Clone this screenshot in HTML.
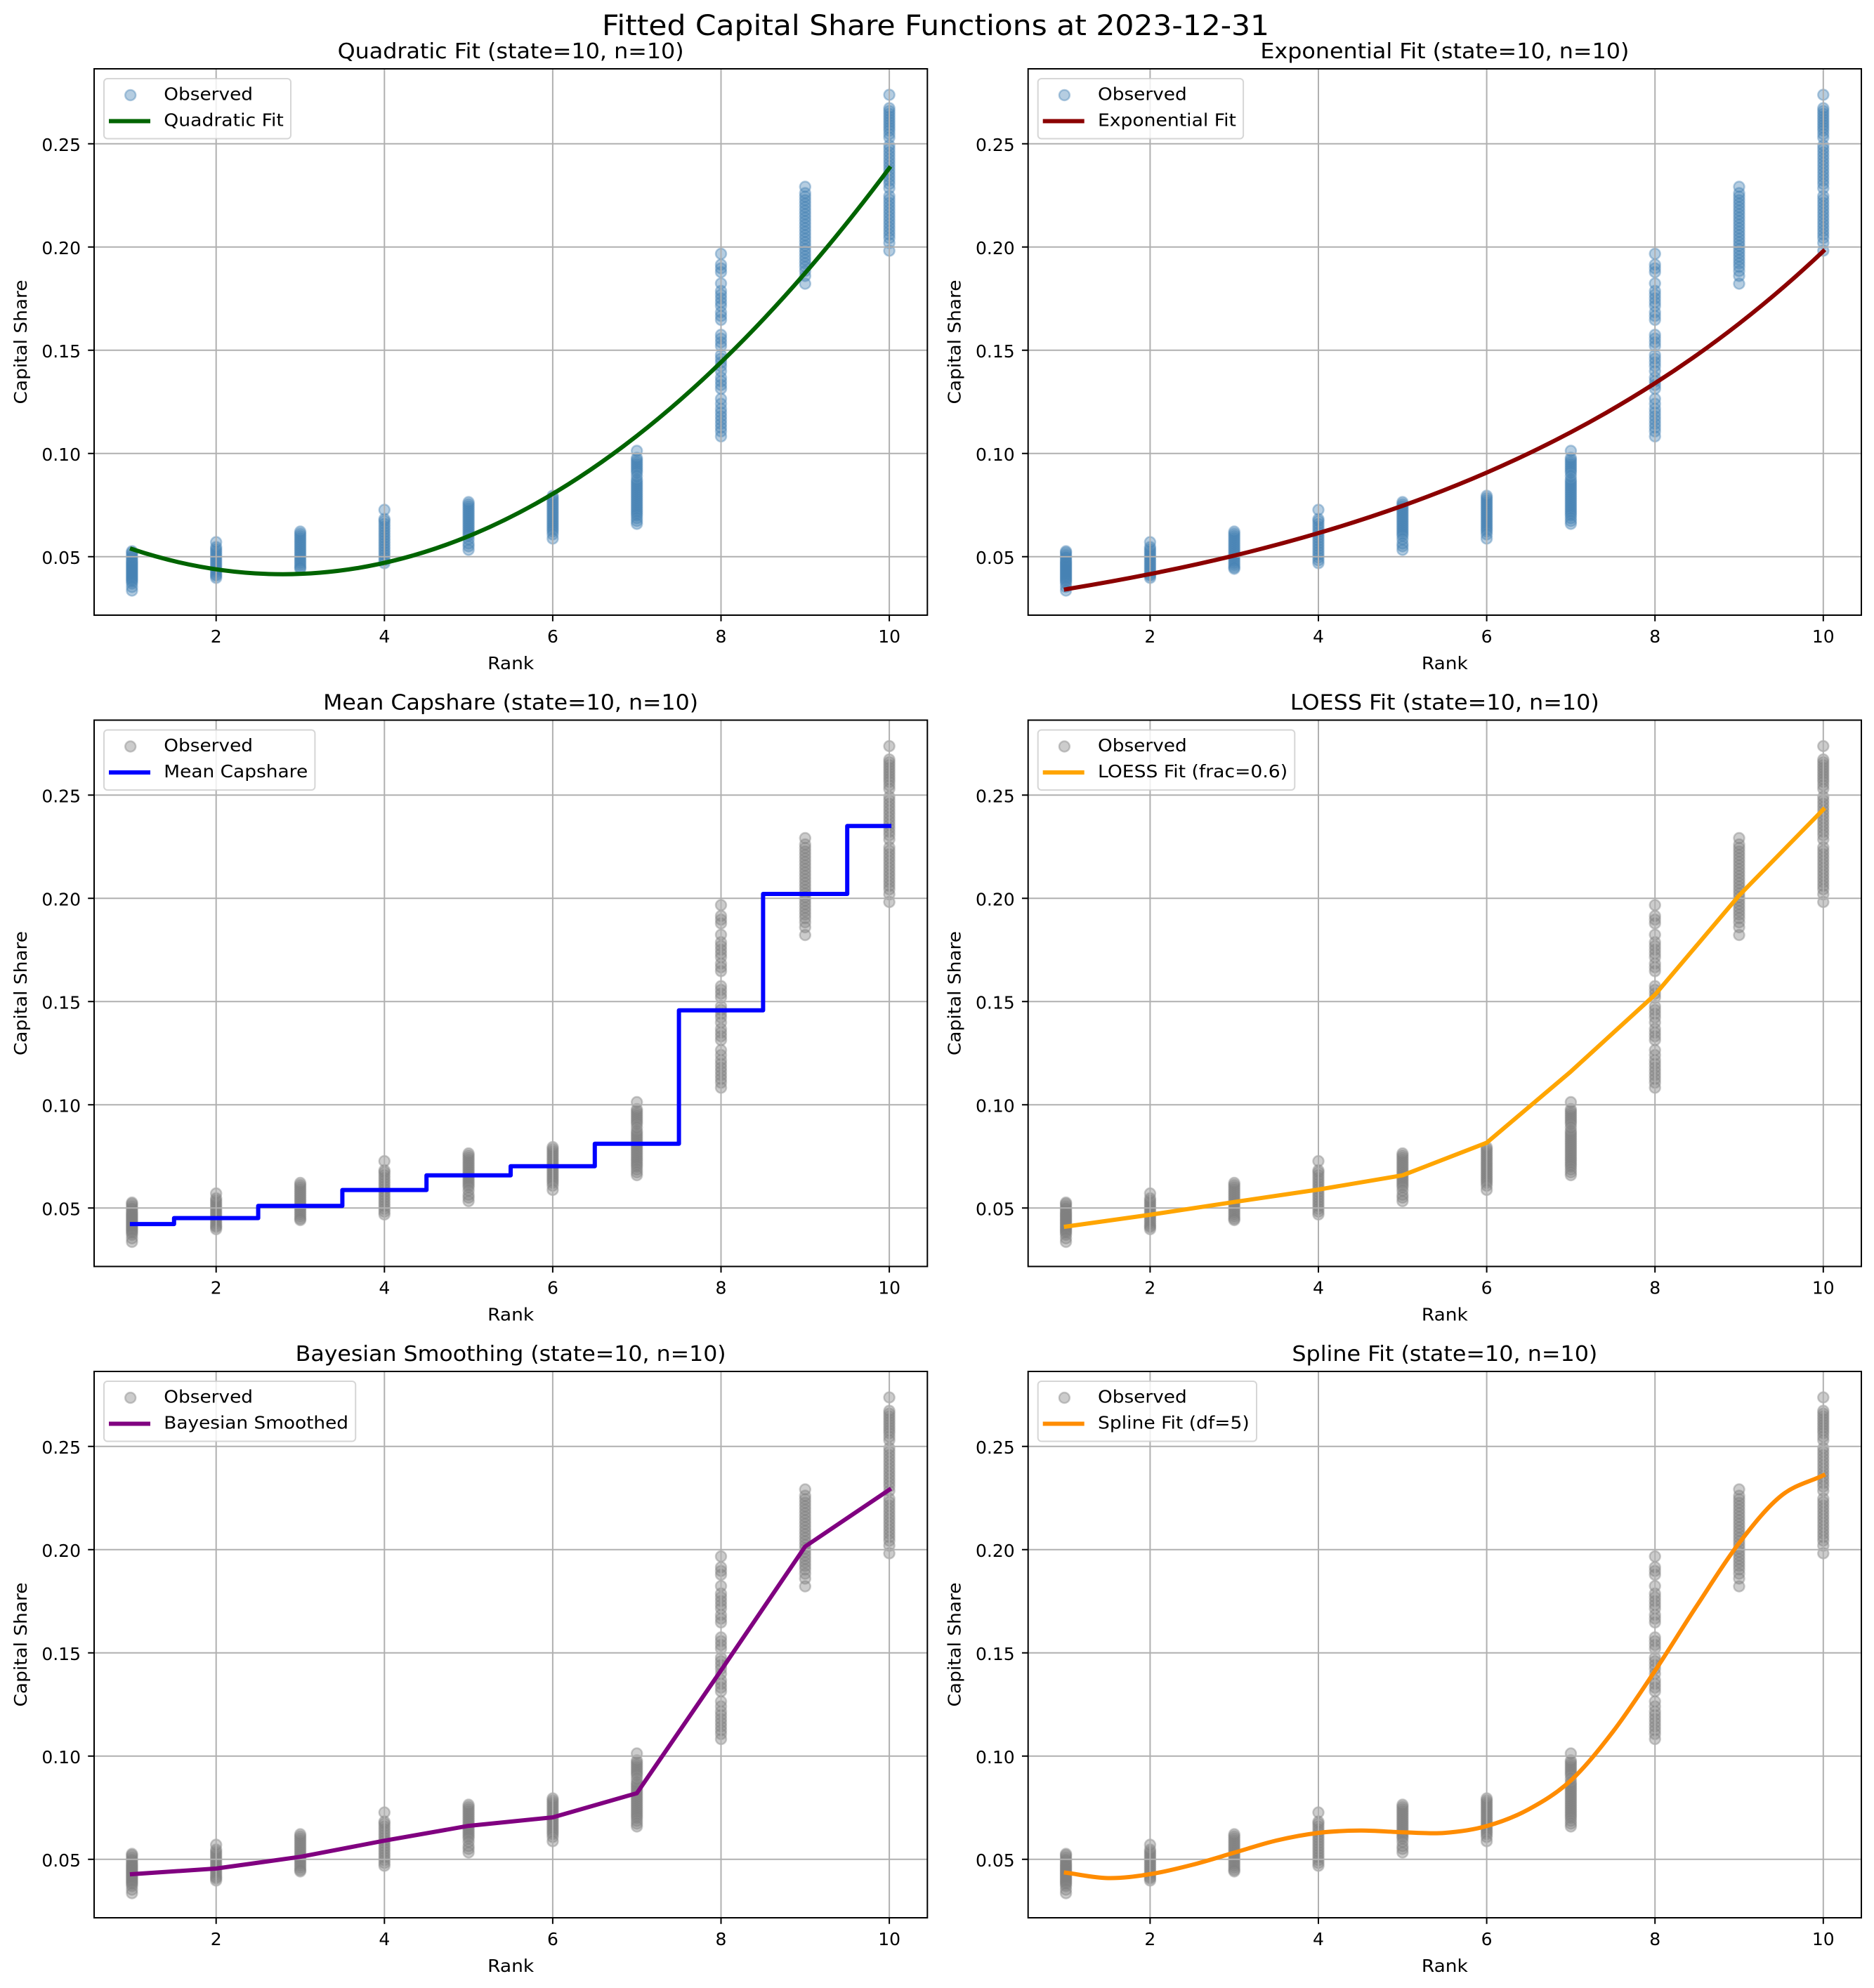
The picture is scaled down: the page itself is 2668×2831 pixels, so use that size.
<!DOCTYPE html>
<html><head><meta charset="utf-8"><style>
body{margin:0;background:#fff}
svg{display:block}
text{font-family:"DejaVu Sans","Liberation Sans",sans-serif;fill:#000}
</style></head><body>
<svg width="2668" height="2831" viewBox="0 0 2668 2831" xmlns="http://www.w3.org/2000/svg" xmlns:xlink="http://www.w3.org/1999/xlink">
<defs>
<g id="pts">
<g transform="translate(53.9,0)"><circle cy="687" r="7.5"/><circle cy="689" r="7.5"/><circle cy="692" r="7.5"/><circle cy="695" r="7.5"/><circle cy="697" r="7.5"/><circle cy="700" r="7.5"/><circle cy="702" r="7.5"/><circle cy="704" r="7.5"/><circle cy="706" r="7.5"/><circle cy="708" r="7.5"/><circle cy="710" r="7.5"/><circle cy="712" r="7.5"/><circle cy="714" r="7.5"/><circle cy="716" r="7.5"/><circle cy="718" r="7.5"/><circle cy="720" r="7.5"/><circle cy="722" r="7.5"/><circle cy="724" r="7.5"/><circle cy="726" r="7.5"/><circle cy="728" r="7.5"/><circle cy="730" r="7.5"/><circle cy="733" r="7.5"/><circle cy="738" r="7.5"/><circle cy="743" r="7.5"/></g>
<g transform="translate(173.7,0)"><circle cy="674" r="7.5"/><circle cy="681" r="7.5"/><circle cy="684" r="7.5"/><circle cy="687" r="7.5"/><circle cy="690" r="7.5"/><circle cy="693" r="7.5"/><circle cy="696" r="7.5"/><circle cy="699" r="7.5"/><circle cy="702" r="7.5"/><circle cy="705" r="7.5"/><circle cy="708" r="7.5"/><circle cy="711" r="7.5"/><circle cy="714" r="7.5"/><circle cy="717" r="7.5"/><circle cy="720" r="7.5"/><circle cy="722" r="7.5"/><circle cy="725" r="7.5"/></g>
<g transform="translate(293.5,0)"><circle cy="659" r="7.5"/><circle cy="662" r="7.5"/><circle cy="665" r="7.5"/><circle cy="668" r="7.5"/><circle cy="671" r="7.5"/><circle cy="674" r="7.5"/><circle cy="677" r="7.5"/><circle cy="680" r="7.5"/><circle cy="683" r="7.5"/><circle cy="686" r="7.5"/><circle cy="689" r="7.5"/><circle cy="692" r="7.5"/><circle cy="695" r="7.5"/><circle cy="698" r="7.5"/><circle cy="701" r="7.5"/><circle cy="704" r="7.5"/><circle cy="707" r="7.5"/><circle cy="710" r="7.5"/><circle cy="712" r="7.5"/></g>
<g transform="translate(413.3,0)"><circle cy="628" r="7.5"/><circle cy="641" r="7.5"/><circle cy="644" r="7.5"/><circle cy="648" r="7.5"/><circle cy="652" r="7.5"/><circle cy="656" r="7.5"/><circle cy="660" r="7.5"/><circle cy="664" r="7.5"/><circle cy="668" r="7.5"/><circle cy="672" r="7.5"/><circle cy="676" r="7.5"/><circle cy="680" r="7.5"/><circle cy="684" r="7.5"/><circle cy="688" r="7.5"/><circle cy="692" r="7.5"/><circle cy="696" r="7.5"/><circle cy="700" r="7.5"/><circle cy="704" r="7.5"/></g>
<g transform="translate(533.1,0)"><circle cy="617" r="7.5"/><circle cy="620" r="7.5"/><circle cy="623" r="7.5"/><circle cy="626" r="7.5"/><circle cy="629" r="7.5"/><circle cy="632" r="7.5"/><circle cy="635" r="7.5"/><circle cy="638" r="7.5"/><circle cy="641" r="7.5"/><circle cy="644" r="7.5"/><circle cy="647" r="7.5"/><circle cy="650" r="7.5"/><circle cy="653" r="7.5"/><circle cy="656" r="7.5"/><circle cy="659" r="7.5"/><circle cy="662" r="7.5"/><circle cy="665" r="7.5"/><circle cy="670" r="7.5"/><circle cy="676" r="7.5"/><circle cy="680" r="7.5"/><circle cy="685" r="7.5"/></g>
<g transform="translate(652.9,0)"><circle cy="608" r="7.5"/><circle cy="611" r="7.5"/><circle cy="614" r="7.5"/><circle cy="617" r="7.5"/><circle cy="620" r="7.5"/><circle cy="623" r="7.5"/><circle cy="626" r="7.5"/><circle cy="629" r="7.5"/><circle cy="632" r="7.5"/><circle cy="635" r="7.5"/><circle cy="638" r="7.5"/><circle cy="641" r="7.5"/><circle cy="644" r="7.5"/><circle cy="647" r="7.5"/><circle cy="650" r="7.5"/><circle cy="653" r="7.5"/><circle cy="656" r="7.5"/><circle cy="659" r="7.5"/><circle cy="663" r="7.5"/><circle cy="669" r="7.5"/></g>
<g transform="translate(772.7,0)"><circle cy="544" r="7.5"/><circle cy="554" r="7.5"/><circle cy="557" r="7.5"/><circle cy="560" r="7.5"/><circle cy="563" r="7.5"/><circle cy="566" r="7.5"/><circle cy="569" r="7.5"/><circle cy="572" r="7.5"/><circle cy="575" r="7.5"/><circle cy="580" r="7.5"/><circle cy="585" r="7.5"/><circle cy="588" r="7.5"/><circle cy="591" r="7.5"/><circle cy="594" r="7.5"/><circle cy="597" r="7.5"/><circle cy="600" r="7.5"/><circle cy="603" r="7.5"/><circle cy="606" r="7.5"/><circle cy="609" r="7.5"/><circle cy="612" r="7.5"/><circle cy="615" r="7.5"/><circle cy="618" r="7.5"/><circle cy="621" r="7.5"/><circle cy="624" r="7.5"/><circle cy="627" r="7.5"/><circle cy="630" r="7.5"/><circle cy="633" r="7.5"/><circle cy="636" r="7.5"/><circle cy="640" r="7.5"/><circle cy="644" r="7.5"/><circle cy="648" r="7.5"/></g>
<g transform="translate(892.5,0)"><circle cy="263.4" r="7.5"/><circle cy="278.8" r="7.5"/><circle cy="284.1" r="7.5"/><circle cy="289.5" r="7.5"/><circle cy="305.6" r="7.5"/><circle cy="316.3" r="7.5"/><circle cy="321.6" r="7.5"/><circle cy="327" r="7.5"/><circle cy="332.4" r="7.5"/><circle cy="337.7" r="7.5"/><circle cy="346.6" r="7.5"/><circle cy="352" r="7.5"/><circle cy="357.4" r="7.5"/><circle cy="378.8" r="7.5"/><circle cy="384.1" r="7.5"/><circle cy="389.5" r="7.5"/><circle cy="394.9" r="7.5"/><circle cy="407.4" r="7.5"/><circle cy="412.7" r="7.5"/><circle cy="418.1" r="7.5"/><circle cy="423.5" r="7.5"/><circle cy="430.6" r="7.5"/><circle cy="439.5" r="7.5"/><circle cy="444.9" r="7.5"/><circle cy="450.2" r="7.5"/><circle cy="455.6" r="7.5"/><circle cy="469.9" r="7.5"/><circle cy="477" r="7.5"/><circle cy="484.1" r="7.5"/><circle cy="489.5" r="7.5"/><circle cy="494.9" r="7.5"/><circle cy="500.2" r="7.5"/><circle cy="505.6" r="7.5"/><circle cy="510.9" r="7.5"/><circle cy="516.3" r="7.5"/><circle cy="523.4" r="7.5"/></g>
<g transform="translate(1012.3,0)"><circle cy="168" r="7.5"/><circle cy="177" r="7.5"/><circle cy="182" r="7.5"/><circle cy="187" r="7.5"/><circle cy="192" r="7.5"/><circle cy="197" r="7.5"/><circle cy="202" r="7.5"/><circle cy="207" r="7.5"/><circle cy="212" r="7.5"/><circle cy="217" r="7.5"/><circle cy="222" r="7.5"/><circle cy="227" r="7.5"/><circle cy="232" r="7.5"/><circle cy="237" r="7.5"/><circle cy="242" r="7.5"/><circle cy="247" r="7.5"/><circle cy="252" r="7.5"/><circle cy="257" r="7.5"/><circle cy="262" r="7.5"/><circle cy="267" r="7.5"/><circle cy="272" r="7.5"/><circle cy="277" r="7.5"/><circle cy="282" r="7.5"/><circle cy="288" r="7.5"/><circle cy="295" r="7.5"/><circle cy="306" r="7.5"/></g>
<g transform="translate(1132.1,0)"><circle cy="37" r="7.5"/><circle cy="56" r="7.5"/><circle cy="60" r="7.5"/><circle cy="64" r="7.5"/><circle cy="68" r="7.5"/><circle cy="72" r="7.5"/><circle cy="76" r="7.5"/><circle cy="80" r="7.5"/><circle cy="84" r="7.5"/><circle cy="88" r="7.5"/><circle cy="93" r="7.5"/><circle cy="98" r="7.5"/><circle cy="109" r="7.5"/><circle cy="114" r="7.5"/><circle cy="119" r="7.5"/><circle cy="124" r="7.5"/><circle cy="129" r="7.5"/><circle cy="134" r="7.5"/><circle cy="139" r="7.5"/><circle cy="144" r="7.5"/><circle cy="149" r="7.5"/><circle cy="154" r="7.5"/><circle cy="159" r="7.5"/><circle cy="164" r="7.5"/><circle cy="170" r="7.5"/><circle cy="181" r="7.5"/><circle cy="186" r="7.5"/><circle cy="191" r="7.5"/><circle cy="196" r="7.5"/><circle cy="201" r="7.5"/><circle cy="206" r="7.5"/><circle cy="211" r="7.5"/><circle cy="216" r="7.5"/><circle cy="221" r="7.5"/><circle cy="226" r="7.5"/><circle cy="231" r="7.5"/><circle cy="236" r="7.5"/><circle cy="241" r="7.5"/><circle cy="248" r="7.5"/><circle cy="259" r="7.5"/></g>
</g>
<g id="grid" stroke="#b0b0b0" stroke-width="2" fill="none">
<path d="M173.7,0V778M413.3,0V778M652.9,0V778M892.5,0V778M1132.1,0V778M0,106.7H1186.3M0,253.7H1186.3M0,400.7H1186.3M0,547.7H1186.3M0,694.7H1186.3"/>
</g>
<g id="frame">
<rect x="0" y="0" width="1186.3" height="778" fill="none" stroke="#000" stroke-width="2"/>
<path d="M173.7,778v8.75M413.3,778v8.75M652.9,778v8.75M892.5,778v8.75M1132.1,778v8.75M0,106.7h-8.75M0,253.7h-8.75M0,400.7h-8.75M0,547.7h-8.75M0,694.7h-8.75" stroke="#000" stroke-width="2" fill="none"/>
</g>
</defs>

<text x="1332" y="50" font-size="40" text-anchor="middle" textLength="950" lengthAdjust="spacingAndGlyphs">Fitted Capital Share Functions at 2023-12-31</text>

<!-- Panel 1: Quadratic -->
<g transform="translate(134,98)">
<use href="#pts" xlink:href="#pts" fill="#4682b4" stroke="#4682b4" fill-opacity="0.4" stroke-opacity="0.4" stroke-width="2.5"/>
<use href="#grid" xlink:href="#grid"/>
<path fill="none" stroke="#006400" stroke-width="6" stroke-linejoin="round" stroke-linecap="square" d="M53.9,683.9 Q593,863.7 1132.1,141.4"/>
<use href="#frame" xlink:href="#frame"/>
<g font-size="25" text-anchor="middle"><text x="173.7" y="817">2</text><text x="413.3" y="817">4</text><text x="652.9" y="817">6</text><text x="892.5" y="817">8</text><text x="1132.1" y="817">10</text></g>
<g font-size="25" text-anchor="end"><text x="-19" y="705.2">0.05</text><text x="-19" y="558.2">0.10</text><text x="-19" y="411.2">0.15</text><text x="-19" y="264.2">0.20</text><text x="-19" y="117.2">0.25</text></g>
<text x="593.15" y="-15" font-size="30" text-anchor="middle" textLength="493" lengthAdjust="spacingAndGlyphs">Quadratic Fit (state=10, n=10)</text>
<text x="593.15" y="855" font-size="25" text-anchor="middle" textLength="66" lengthAdjust="spacingAndGlyphs">Rank</text>
<text transform="translate(-96,389) rotate(-90)" font-size="25" text-anchor="middle" textLength="177" lengthAdjust="spacingAndGlyphs">Capital Share</text>
<g transform="translate(14,14)">
<rect x="0" y="0" width="266" height="85.5" rx="5" fill="#fff" fill-opacity="0.8" stroke="#ccc" stroke-opacity="0.8" stroke-width="2"/>
<circle cx="37.7" cy="23.5" r="7.5" fill="#4682b4" stroke="#4682b4" fill-opacity="0.4" stroke-opacity="0.4" stroke-width="2.5"/>
<line x1="10" y1="60.5" x2="63" y2="60.5" stroke="#006400" stroke-width="6" stroke-linecap="square"/>
<text x="85.3" y="30.5" font-size="25" textLength="126.7" lengthAdjust="spacingAndGlyphs">Observed</text>
<text x="85.3" y="67.5" font-size="25" textLength="170.5" lengthAdjust="spacingAndGlyphs">Quadratic Fit</text>
</g>
</g>

<!-- Panel 2: Exponential -->
<g transform="translate(1463.7,98)">
<use href="#pts" xlink:href="#pts" fill="#4682b4" stroke="#4682b4" fill-opacity="0.4" stroke-opacity="0.4" stroke-width="2.5"/>
<use href="#grid" xlink:href="#grid"/>
<path fill="none" stroke="#8b0000" stroke-width="6" stroke-linejoin="round" stroke-linecap="square" d="M53.9,741.15 C93.83,734.61 133.77,727.43 173.7,719.48 C213.63,711.53 253.57,702.82 293.5,693.16 C333.43,683.5 373.37,672.9 413.3,661.16 C453.23,649.42 493.17,636.53 533.1,622.26 C573.03,607.99 612.97,592.33 652.9,574.99 C692.83,557.65 732.77,538.61 772.7,517.53 C812.63,496.45 852.57,473.32 892.5,447.7 C932.43,422.08 972.37,393.95 1012.3,362.81 C1052.23,331.67 1092.17,297.49 1132.1,259.64"/>
<use href="#frame" xlink:href="#frame"/>
<g font-size="25" text-anchor="middle"><text x="173.7" y="817">2</text><text x="413.3" y="817">4</text><text x="652.9" y="817">6</text><text x="892.5" y="817">8</text><text x="1132.1" y="817">10</text></g>
<g font-size="25" text-anchor="end"><text x="-19" y="705.2">0.05</text><text x="-19" y="558.2">0.10</text><text x="-19" y="411.2">0.15</text><text x="-19" y="264.2">0.20</text><text x="-19" y="117.2">0.25</text></g>
<text x="593.15" y="-15" font-size="30" text-anchor="middle" textLength="525" lengthAdjust="spacingAndGlyphs">Exponential Fit (state=10, n=10)</text>
<text x="593.15" y="855" font-size="25" text-anchor="middle" textLength="66" lengthAdjust="spacingAndGlyphs">Rank</text>
<text transform="translate(-96,389) rotate(-90)" font-size="25" text-anchor="middle" textLength="177" lengthAdjust="spacingAndGlyphs">Capital Share</text>
<g transform="translate(14,14)">
<rect x="0" y="0" width="292.4" height="85.5" rx="5" fill="#fff" fill-opacity="0.8" stroke="#ccc" stroke-opacity="0.8" stroke-width="2"/>
<circle cx="37.7" cy="23.5" r="7.5" fill="#4682b4" stroke="#4682b4" fill-opacity="0.4" stroke-opacity="0.4" stroke-width="2.5"/>
<line x1="10" y1="60.5" x2="63" y2="60.5" stroke="#8b0000" stroke-width="6" stroke-linecap="square"/>
<text x="85.3" y="30.5" font-size="25" textLength="126.7" lengthAdjust="spacingAndGlyphs">Observed</text>
<text x="85.3" y="67.5" font-size="25" textLength="196.9" lengthAdjust="spacingAndGlyphs">Exponential Fit</text>
</g>
</g>

<!-- Panel 3: Mean -->
<g transform="translate(134,1025.5)">
<use href="#pts" xlink:href="#pts" fill="#808080" stroke="#808080" fill-opacity="0.4" stroke-opacity="0.4" stroke-width="2.5"/>
<use href="#grid" xlink:href="#grid"/>
<path fill="none" stroke="#0000ff" stroke-width="6" stroke-linejoin="round" stroke-linecap="square" d="M53.9,717.6H113.8V709.1H233.6V691.8H353.4V669.1H473.2V648.2H593V635.3H712.8V603.3H832.6V413.3H952.4V247.5H1072.2V150.8H1132.1"/>
<use href="#frame" xlink:href="#frame"/>
<g font-size="25" text-anchor="middle"><text x="173.7" y="817">2</text><text x="413.3" y="817">4</text><text x="652.9" y="817">6</text><text x="892.5" y="817">8</text><text x="1132.1" y="817">10</text></g>
<g font-size="25" text-anchor="end"><text x="-19" y="705.2">0.05</text><text x="-19" y="558.2">0.10</text><text x="-19" y="411.2">0.15</text><text x="-19" y="264.2">0.20</text><text x="-19" y="117.2">0.25</text></g>
<text x="593.15" y="-15" font-size="30" text-anchor="middle" textLength="534" lengthAdjust="spacingAndGlyphs">Mean Capshare (state=10, n=10)</text>
<text x="593.15" y="855" font-size="25" text-anchor="middle" textLength="66" lengthAdjust="spacingAndGlyphs">Rank</text>
<text transform="translate(-96,389) rotate(-90)" font-size="25" text-anchor="middle" textLength="177" lengthAdjust="spacingAndGlyphs">Capital Share</text>
<g transform="translate(14,14)">
<rect x="0" y="0" width="300.4" height="85.5" rx="5" fill="#fff" fill-opacity="0.8" stroke="#ccc" stroke-opacity="0.8" stroke-width="2"/>
<circle cx="37.7" cy="23.5" r="7.5" fill="#808080" stroke="#808080" fill-opacity="0.4" stroke-opacity="0.4" stroke-width="2.5"/>
<line x1="10" y1="60.5" x2="63" y2="60.5" stroke="#0000ff" stroke-width="6" stroke-linecap="square"/>
<text x="85.3" y="30.5" font-size="25" textLength="126.7" lengthAdjust="spacingAndGlyphs">Observed</text>
<text x="85.3" y="67.5" font-size="25" textLength="204.9" lengthAdjust="spacingAndGlyphs">Mean Capshare</text>
</g>
</g>

<!-- Panel 4: LOESS -->
<g transform="translate(1463.7,1025.5)">
<use href="#pts" xlink:href="#pts" fill="#808080" stroke="#808080" fill-opacity="0.4" stroke-opacity="0.4" stroke-width="2.5"/>
<use href="#grid" xlink:href="#grid"/>
<polyline fill="none" stroke="#ffa500" stroke-width="6" stroke-linejoin="round" stroke-linecap="square" points="53.9,721.2 173.7,704.4 293.5,686.2 413.3,668.5 533.1,648.2 652.9,601.8 772.7,500.4 892.5,391.0 1012.3,249.6 1132.1,127.3"/>
<use href="#frame" xlink:href="#frame"/>
<g font-size="25" text-anchor="middle"><text x="173.7" y="817">2</text><text x="413.3" y="817">4</text><text x="652.9" y="817">6</text><text x="892.5" y="817">8</text><text x="1132.1" y="817">10</text></g>
<g font-size="25" text-anchor="end"><text x="-19" y="705.2">0.05</text><text x="-19" y="558.2">0.10</text><text x="-19" y="411.2">0.15</text><text x="-19" y="264.2">0.20</text><text x="-19" y="117.2">0.25</text></g>
<text x="593.15" y="-15" font-size="30" text-anchor="middle" textLength="440" lengthAdjust="spacingAndGlyphs">LOESS Fit (state=10, n=10)</text>
<text x="593.15" y="855" font-size="25" text-anchor="middle" textLength="66" lengthAdjust="spacingAndGlyphs">Rank</text>
<text transform="translate(-96,389) rotate(-90)" font-size="25" text-anchor="middle" textLength="177" lengthAdjust="spacingAndGlyphs">Capital Share</text>
<g transform="translate(14,14)">
<rect x="0" y="0" width="365.6" height="85.5" rx="5" fill="#fff" fill-opacity="0.8" stroke="#ccc" stroke-opacity="0.8" stroke-width="2"/>
<circle cx="37.7" cy="23.5" r="7.5" fill="#808080" stroke="#808080" fill-opacity="0.4" stroke-opacity="0.4" stroke-width="2.5"/>
<line x1="10" y1="60.5" x2="63" y2="60.5" stroke="#ffa500" stroke-width="6" stroke-linecap="square"/>
<text x="85.3" y="30.5" font-size="25" textLength="126.7" lengthAdjust="spacingAndGlyphs">Observed</text>
<text x="85.3" y="67.5" font-size="25" textLength="270.1" lengthAdjust="spacingAndGlyphs">LOESS Fit (frac=0.6)</text>
</g>
</g>

<!-- Panel 5: Bayesian -->
<g transform="translate(134,1953)">
<use href="#pts" xlink:href="#pts" fill="#808080" stroke="#808080" fill-opacity="0.4" stroke-opacity="0.4" stroke-width="2.5"/>
<use href="#grid" xlink:href="#grid"/>
<polyline fill="none" stroke="#800080" stroke-width="6" stroke-linejoin="round" stroke-linecap="square" points="53.9,715.9 173.7,707.9 293.5,691.2 413.3,668.2 533.1,647.1 652.9,635.0 772.7,600.6 892.5,425.7 1012.3,249.3 1132.1,168.4"/>
<use href="#frame" xlink:href="#frame"/>
<g font-size="25" text-anchor="middle"><text x="173.7" y="817">2</text><text x="413.3" y="817">4</text><text x="652.9" y="817">6</text><text x="892.5" y="817">8</text><text x="1132.1" y="817">10</text></g>
<g font-size="25" text-anchor="end"><text x="-19" y="705.2">0.05</text><text x="-19" y="558.2">0.10</text><text x="-19" y="411.2">0.15</text><text x="-19" y="264.2">0.20</text><text x="-19" y="117.2">0.25</text></g>
<text x="593.15" y="-15" font-size="30" text-anchor="middle" textLength="613" lengthAdjust="spacingAndGlyphs">Bayesian Smoothing (state=10, n=10)</text>
<text x="593.15" y="855" font-size="25" text-anchor="middle" textLength="66" lengthAdjust="spacingAndGlyphs">Rank</text>
<text transform="translate(-96,389) rotate(-90)" font-size="25" text-anchor="middle" textLength="177" lengthAdjust="spacingAndGlyphs">Capital Share</text>
<g transform="translate(14,14)">
<rect x="0" y="0" width="358.2" height="85.5" rx="5" fill="#fff" fill-opacity="0.8" stroke="#ccc" stroke-opacity="0.8" stroke-width="2"/>
<circle cx="37.7" cy="23.5" r="7.5" fill="#808080" stroke="#808080" fill-opacity="0.4" stroke-opacity="0.4" stroke-width="2.5"/>
<line x1="10" y1="60.5" x2="63" y2="60.5" stroke="#800080" stroke-width="6" stroke-linecap="square"/>
<text x="85.3" y="30.5" font-size="25" textLength="126.7" lengthAdjust="spacingAndGlyphs">Observed</text>
<text x="85.3" y="67.5" font-size="25" textLength="262.7" lengthAdjust="spacingAndGlyphs">Bayesian Smoothed</text>
</g>
</g>

<!-- Panel 6: Spline -->
<g transform="translate(1463.7,1953)">
<use href="#pts" xlink:href="#pts" fill="#808080" stroke="#808080" fill-opacity="0.4" stroke-opacity="0.4" stroke-width="2.5"/>
<use href="#grid" xlink:href="#grid"/>
<path fill="none" stroke="#ff8c00" stroke-width="6" stroke-linejoin="round" stroke-linecap="square" d="M53.9,713.8 C73.87,716.37 93.83,721.15 113.8,721.5 C133.77,721.85 153.73,719.05 173.7,715.9 C193.67,712.75 213.63,707.7 233.6,702.6 C253.57,697.5 273.53,691.07 293.5,685.3 C313.47,679.53 333.43,672.7 353.4,668.0 C373.37,663.3 393.33,659.47 413.3,657.1 C433.27,654.73 453.23,653.95 473.2,653.8 C493.17,653.65 513.13,655.65 533.1,656.2 C553.07,656.75 573.03,658.57 593,657.1 C612.97,655.63 632.93,653.0 652.9,647.4 C672.87,641.8 692.83,634.33 712.8,623.5 C732.77,612.67 752.73,600.82 772.7,582.4 C792.67,563.98 812.63,539.02 832.6,513.0 C852.57,486.98 872.53,456.28 892.5,426.3 C912.47,396.32 932.43,363.43 952.4,333.1 C972.37,302.77 992.33,270.32 1012.3,244.3 C1032.27,218.28 1052.23,193.07 1072.2,177.0 C1092.17,160.93 1112.13,157.6 1132.1,147.9"/>
<use href="#frame" xlink:href="#frame"/>
<g font-size="25" text-anchor="middle"><text x="173.7" y="817">2</text><text x="413.3" y="817">4</text><text x="652.9" y="817">6</text><text x="892.5" y="817">8</text><text x="1132.1" y="817">10</text></g>
<g font-size="25" text-anchor="end"><text x="-19" y="705.2">0.05</text><text x="-19" y="558.2">0.10</text><text x="-19" y="411.2">0.15</text><text x="-19" y="264.2">0.20</text><text x="-19" y="117.2">0.25</text></g>
<text x="593.15" y="-15" font-size="30" text-anchor="middle" textLength="435" lengthAdjust="spacingAndGlyphs">Spline Fit (state=10, n=10)</text>
<text x="593.15" y="855" font-size="25" text-anchor="middle" textLength="66" lengthAdjust="spacingAndGlyphs">Rank</text>
<text transform="translate(-96,389) rotate(-90)" font-size="25" text-anchor="middle" textLength="177" lengthAdjust="spacingAndGlyphs">Capital Share</text>
<g transform="translate(14,14)">
<rect x="0" y="0" width="311.3" height="85.5" rx="5" fill="#fff" fill-opacity="0.8" stroke="#ccc" stroke-opacity="0.8" stroke-width="2"/>
<circle cx="37.7" cy="23.5" r="7.5" fill="#808080" stroke="#808080" fill-opacity="0.4" stroke-opacity="0.4" stroke-width="2.5"/>
<line x1="10" y1="60.5" x2="63" y2="60.5" stroke="#ff8c00" stroke-width="6" stroke-linecap="square"/>
<text x="85.3" y="30.5" font-size="25" textLength="126.7" lengthAdjust="spacingAndGlyphs">Observed</text>
<text x="85.3" y="67.5" font-size="25" textLength="215.8" lengthAdjust="spacingAndGlyphs">Spline Fit (df=5)</text>
</g>
</g>
</svg>
</body></html>
